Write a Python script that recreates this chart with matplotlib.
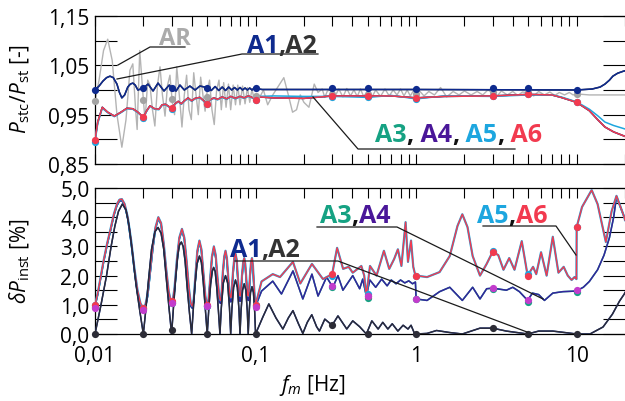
import matplotlib
matplotlib.use('Agg')
import matplotlib.pyplot as plt
from matplotlib import transforms
from matplotlib.lines import Line2D
from matplotlib.ticker import LogLocator, NullFormatter

plt.rcParams['font.family'] = ['Open Sans', 'DejaVu Sans']
plt.rcParams['mathtext.fontset'] = 'custom'
plt.rcParams['mathtext.rm'] = 'Open Sans'
plt.rcParams['mathtext.it'] = 'Open Sans:italic'
plt.rcParams['mathtext.bf'] = 'Open Sans:bold'

# ---------------- data ----------------
x_ticks = [0.01, 0.1, 1, 10]
x_ticklabels = ['0,01', '0,1', '1', '10']
top_yticks = [0.85, 0.90, 0.95, 1.00, 1.05, 1.10, 1.15]
top_yticklabels = ['0,85', '', '0,95', '', '1,05', '', '1,15']
bot_yticks = [0, 0.5, 1, 1.5, 2, 2.5, 3, 3.5, 4, 4.5, 5]
bot_yticklabels = ['0,0', '', '1,0', '', '2,0', '', '3,0', '', '4,0', '', '5,0']

# marker frequencies
m_f = [0.01, 0.02, 0.03, 0.05, 0.1, 0.3, 0.5, 1, 3, 5, 10]

# --- top panel: Pstc/Pst ---
t_ar_f = [
    0.0100, 0.0106, 0.0113, 0.0120, 0.0128, 0.0137, 0.0147, 0.0156, 0.0165, 0.0172,
    0.0179, 0.0183, 0.0190, 0.0198, 0.0205, 0.0213, 0.0220, 0.0228, 0.0236, 0.0245,
    0.0254, 0.0263, 0.0273, 0.0283, 0.0293, 0.0303, 0.0313, 0.0323, 0.0335, 0.0348,
    0.0360, 0.0372, 0.0385, 0.0398, 0.0412, 0.0426, 0.0440, 0.0455, 0.0470, 0.0485,
    0.0500, 0.0517, 0.0535, 0.0553, 0.0572, 0.0592, 0.0612, 0.0633, 0.0655, 0.0678,
    0.0700, 0.0725, 0.0750, 0.0775, 0.0800, 0.0830, 0.0860, 0.0890, 0.0920, 0.0950,
    0.0980, 0.1000, 0.1060, 0.1120, 0.1190, 0.1280, 0.1400, 0.1500, 0.1600, 0.1700,
    0.1800, 0.1900, 0.2000, 0.2150, 0.2320, 0.2450, 0.2600, 0.2700, 0.2800, 0.2900,
    0.3100, 0.3300, 0.3500, 0.3700, 0.3900, 0.4100, 0.4300, 0.4500, 0.4700, 0.5000,
    0.5300, 0.5600, 0.6000, 0.6400, 0.6800, 0.7200, 0.7600, 0.8000, 0.8400, 0.8800,
    0.9200, 0.9600, 1.0000, 1.0500, 1.1200, 1.2000, 1.3000, 1.4200, 1.5500, 1.7000,
    1.8500, 2.0000, 2.2000, 2.4000, 2.6000, 2.8000, 3.0000, 3.2000, 3.4000, 3.7000,
    4.0000, 4.3000, 4.6000, 5.0000, 5.4000, 5.8000, 6.3000, 6.8000, 7.3000, 7.8000,
    8.4000, 9.0000, 9.5000, 10.000, 12.000, 15.000, 20.000]
t_ar = [
    0.978, 1.020, 1.080, 1.103, 1.060, 0.950, 0.884, 0.940, 1.040, 1.053,
    0.960, 0.920, 1.080, 1.000, 0.937, 1.020, 1.010, 0.960, 0.927, 1.010,
    1.047, 0.990, 0.947, 1.010, 1.030, 0.975, 0.950, 1.047, 0.990, 0.925,
    0.990, 1.030, 0.960, 0.940, 1.035, 0.990, 0.950, 1.026, 0.990, 0.957,
    1.000, 1.020, 0.960, 0.930, 1.000, 1.020, 0.960, 1.015, 0.965, 1.012,
    0.960, 1.010, 0.970, 1.010, 0.970, 1.008, 0.972, 1.005, 0.975, 1.002,
    0.980, 0.988, 0.985, 1.000, 0.970, 0.990, 1.010, 1.025, 0.990, 0.955,
    0.960, 0.990, 0.975, 0.965, 1.012, 0.995, 1.002, 0.985, 0.998, 1.000,
    0.985, 1.002, 0.986, 1.003, 0.988, 1.000, 0.987, 1.002, 0.988, 0.995,
    0.985, 1.000, 0.987, 1.002, 0.988, 1.000, 0.990, 1.002, 0.988, 1.000,
    0.988, 0.998, 0.992, 0.998, 0.988, 0.997, 0.990, 1.005, 0.986, 0.997,
    0.990, 0.998, 0.990, 0.997, 0.990, 1.000, 0.994, 0.988, 0.998, 0.990,
    0.997, 0.989, 0.996, 0.994, 0.988, 0.997, 0.990, 0.996, 0.989, 0.995,
    0.990, 0.995, 0.990, 0.992, 0.990, 0.990, 0.990]

t_a12_f = [
    0.0100, 0.0106, 0.0112, 0.0118, 0.0124, 0.0130, 0.0137, 0.0142, 0.0147, 0.0153,
    0.0160, 0.0166, 0.0172, 0.0178, 0.0185, 0.0200, 0.0214,
    0.0230, 0.0247, 0.0269, 0.0290, 0.0300, 0.0320, 0.0338, 0.0360, 0.0390, 0.0420,
    0.0450, 0.0500, 0.0530, 0.0560, 0.0590, 0.0620, 0.0650, 0.0680, 0.0710, 0.0740,
    0.0770, 0.0800, 0.0830, 0.0860, 0.0890, 0.0920, 0.0950, 0.0980, 0.1000, 0.1100,
    1.0, 10.0, 12.5, 14.0, 15.0, 16.0, 16.8, 18.0, 19.5, 20.0]
t_a1 = [
    1.000, 1.008, 1.018, 1.025, 1.028, 1.025, 1.012, 0.995, 0.984, 0.990,
    1.006, 1.012, 1.014, 1.010, 1.000, 1.004, 1.012,
    0.998, 1.014, 0.998, 1.010, 1.004, 0.998, 1.010, 1.000, 1.008, 1.000,
    1.008, 1.005, 0.999, 1.007, 0.999, 1.006, 0.999, 1.006, 1.000, 1.005,
    1.000, 1.005, 1.000, 1.004, 1.000, 1.004, 1.000, 1.004, 1.003, 1.001,
    1.001, 1.000, 1.002, 1.006, 1.012, 1.020, 1.028, 1.034, 1.038, 1.039]
t_a2 = t_a1

t_a36_f = [
    0.0100, 0.0104, 0.0111, 0.0120, 0.0132, 0.0145, 0.0158, 0.0172, 0.0185, 0.0200,
    0.0210, 0.0220, 0.0235, 0.0250, 0.0262, 0.0275, 0.0290, 0.0300, 0.0315, 0.0330,
    0.0345, 0.0360, 0.0380, 0.0400, 0.0420, 0.0450, 0.0480, 0.0500, 0.0520, 0.0550,
    0.0580, 0.0620, 0.0660, 0.0700, 0.0750, 0.0800, 0.0850, 0.0900, 0.0950, 0.1000,
    0.1050, 0.1300, 0.2000, 0.3000, 0.4000, 0.5000, 0.7000, 1.0000, 1.5000, 3.0000,
    5.0000, 7.0000, 8.0000, 10.000, 12.000, 13.500, 15.000, 17.000, 20.000]
t_a6 = [
    0.899, 0.935, 0.965, 0.955, 0.947, 0.955, 0.963, 0.962, 0.955, 0.945,
    0.958, 0.968, 0.962, 0.961, 0.970, 0.971, 0.966, 0.963, 0.972, 0.977,
    0.972, 0.978, 0.984, 0.978, 0.983, 0.985, 0.977, 0.972, 0.980, 0.984,
    0.981, 0.986, 0.982, 0.987, 0.983, 0.987, 0.984, 0.988, 0.985, 0.981,
    0.986, 0.984, 0.983, 0.988, 0.988, 0.988, 0.988, 0.984, 0.987, 0.988,
    0.991, 0.990, 0.985, 0.975, 0.958, 0.940, 0.925, 0.915, 0.906]
t_a5 = [
    0.894, 0.932, 0.963, 0.954, 0.946, 0.954, 0.962, 0.961, 0.954, 0.944,
    0.957, 0.967, 0.961, 0.960, 0.969, 0.970, 0.965, 0.962, 0.971, 0.976,
    0.971, 0.977, 0.983, 0.977, 0.982, 0.984, 0.976, 0.971, 0.979, 0.983,
    0.980, 0.985, 0.981, 0.986, 0.982, 0.986, 0.983, 0.987, 0.984, 0.980,
    0.987, 0.988, 0.987, 0.987, 0.986, 0.985, 0.989, 0.982, 0.988, 0.987,
    0.990, 0.990, 0.986, 0.976, 0.961, 0.948, 0.935, 0.928, 0.921]
t_a34 = t_a6

t_m_a1 = [1.000, 1.004, 1.005, 1.005, 1.004, 1.004, 1.004, 1.002, 1.004, 1.004, 1.000]
t_m_ar = [0.978, 0.979, 0.982, 0.985, 0.988, 0.992, 0.992, 0.992, 0.996, 0.996, 0.992]
t_m_a6 = [0.899, 0.945, 0.963, 0.972, 0.980, 0.988, 0.988, 0.984, 0.988, 0.992, 0.975]
t_m_a5 = [0.894, 0.944, 0.962, 0.971, 0.979, 0.986, 0.985, 0.982, 0.987, 0.991, 0.976]

# --- bottom panel: dPinst ---
b_a12_f = [
    0.0100, 0.0109, 0.0118, 0.0126, 0.0133, 0.0140, 0.0148, 0.0156, 0.0163, 0.0171,
    0.0180, 0.0190, 0.0200,
    0.0207, 0.0215, 0.0225, 0.0236, 0.0247, 0.0258, 0.0268, 0.0278, 0.0289, 0.0300,
    0.0308, 0.0318, 0.0328, 0.0336, 0.0345, 0.0354, 0.0364, 0.0375, 0.0388, 0.0400,
    0.0410, 0.0420, 0.0432, 0.0447, 0.0460, 0.0472, 0.0486, 0.0500,
    0.0512, 0.0525, 0.0538, 0.0548, 0.0560, 0.0573, 0.0587, 0.0600,
    0.0612, 0.0630, 0.0650, 0.0670, 0.0688, 0.0700,
    0.0712, 0.0730, 0.0750, 0.0770, 0.0788, 0.0800,
    0.0812, 0.0830, 0.0850, 0.0870, 0.0888, 0.0900,
    0.0912, 0.0930, 0.0950, 0.0970, 0.0988, 0.1000,
    0.111, 0.121, 0.134, 0.148, 0.160, 0.171, 0.185, 0.197, 0.210, 0.224,
    0.240, 0.250, 0.270, 0.300, 0.326, 0.370, 0.403, 0.445, 0.490, 0.530,
    0.580, 0.620, 0.667, 0.710, 0.770, 0.830, 0.890, 0.930, 0.980, 1.000,
    1.170, 1.340, 1.620, 1.940, 2.500, 3.000, 3.650, 4.950, 5.800, 7.100,
    10.00, 12.10, 14.60, 16.70, 18.50, 19.80, 20.00]
b_a12 = [
    0.00, 1.00, 2.00, 3.00, 3.70, 4.20, 4.45, 4.25, 3.70, 2.80,
    1.70, 0.80, 0.00,
    0.80, 1.80, 2.90, 3.50, 3.65, 3.45, 2.90, 1.90, 0.90, 0.00,
    0.90, 1.90, 2.70, 3.05, 3.15, 3.00, 2.50, 1.60, 0.70, 0.00,
    0.90, 1.70, 2.40, 2.67, 2.45, 1.80, 0.90, 0.00,
    0.90, 1.70, 2.15, 2.28, 2.15, 1.60, 0.80, 0.00,
    0.90, 1.75, 2.00, 1.75, 0.90, 0.00,
    0.85, 1.60, 1.85, 1.60, 0.85, 0.00,
    0.80, 1.50, 1.72, 1.50, 0.80, 0.00,
    0.75, 1.42, 1.62, 1.42, 0.75, 0.00,
    0.58, 1.03, 0.55, 0.17, 0.55, 0.80, 0.35, 0.02, 0.40, 0.66,
    0.25, 0.10, 0.51, 0.30, 0.62, 0.17, 0.45, 0.25, 0.00, 0.45,
    0.17, 0.40, 0.17, 0.35, 0.10, 0.30, 0.17, 0.30, 0.00, 0.00,
    0.02, 0.12, 0.05, 0.00, 0.20, 0.20, 0.10, 0.00, 0.10, 0.10,
    0.00, 0.00, 0.24, 0.68, 1.13, 1.37, 1.42]

b_lo_f = [
    0.0100, 0.0104, 0.0108, 0.0113, 0.0119, 0.0125, 0.0131, 0.0137, 0.0142, 0.0147,
    0.0153, 0.0160, 0.0168, 0.0176, 0.0184, 0.0192, 0.0199, 0.0206,
    0.0213, 0.0221, 0.0229, 0.0238, 0.0248, 0.0258, 0.0268, 0.0278, 0.0288, 0.0297, 0.0305,
    0.0313, 0.0323, 0.0335, 0.0348, 0.0360, 0.0372, 0.0384, 0.0395, 0.0404, 0.0412,
    0.0422, 0.0434, 0.0447, 0.0460, 0.0473, 0.0487, 0.0498, 0.0508,
    0.0520, 0.0535, 0.0550, 0.0565, 0.0580, 0.0595, 0.0605, 0.0613,
    0.0625, 0.0638, 0.0650, 0.0663, 0.0677, 0.0692, 0.0702, 0.0710,
    0.0723, 0.0737, 0.0750, 0.0763, 0.0777, 0.0792, 0.0802, 0.0810,
    0.0823, 0.0837, 0.0850, 0.0863, 0.0877, 0.0892, 0.0902, 0.0910,
    0.0923, 0.0937, 0.0950, 0.0963, 0.0977, 0.0990, 0.1000]
b_a6_lo = [
    1.00, 1.40, 1.90, 2.50, 3.10, 3.60, 4.10, 4.45, 4.60, 4.62,
    4.45, 4.00, 3.20, 2.25, 1.50, 1.05, 0.90, 1.00,
    1.40, 2.20, 3.00, 3.65, 4.00, 3.80, 3.10, 2.20, 1.45, 1.12, 1.15,
    1.60, 2.50, 3.30, 3.60, 3.30, 2.50, 1.60, 1.05, 0.95, 1.20,
    2.00, 2.85, 3.20, 2.90, 2.10, 1.30, 1.00, 1.10,
    1.80, 2.65, 3.00, 2.70, 1.90, 1.25, 1.15, 1.35,
    2.10, 2.65, 2.85, 2.60, 1.90, 1.30, 1.25, 1.45,
    2.10, 2.60, 2.75, 2.55, 1.90, 1.35, 1.30, 1.45,
    2.00, 2.45, 2.60, 2.40, 1.85, 1.35, 1.30, 1.45,
    2.00, 2.45, 2.60, 2.35, 1.70, 1.20, 1.00]
b_a34_lo = [
    0.95, 1.35, 1.85, 2.45, 3.05, 3.55, 4.05, 4.40, 4.55, 4.57,
    4.40, 3.95, 3.10, 2.15, 1.40, 0.95, 0.82, 0.90,
    1.30, 2.10, 2.90, 3.60, 3.95, 3.75, 3.00, 2.10, 1.30, 1.02, 1.05,
    1.50, 2.40, 3.25, 3.55, 3.25, 2.40, 1.50, 0.95, 0.88, 1.10,
    1.90, 2.80, 3.15, 2.85, 2.00, 1.15, 0.95, 1.00,
    1.70, 2.60, 2.95, 2.60, 1.80, 1.10, 1.05, 1.25,
    2.00, 2.60, 2.80, 2.50, 1.80, 1.15, 1.10, 1.30,
    2.00, 2.55, 2.70, 2.45, 1.80, 1.15, 1.12, 1.30,
    1.90, 2.40, 2.55, 2.30, 1.75, 1.20, 1.15, 1.30,
    1.90, 2.40, 2.55, 2.25, 1.60, 1.05, 0.95]

b_a56_hi_f = [
    0.109, 0.128, 0.142, 0.171, 0.190, 0.2245, 0.263, 0.300, 0.322, 0.351,
    0.380, 0.403, 0.456, 0.475, 0.490, 0.516, 0.567, 0.630, 0.680, 0.730,
    0.770, 0.810, 0.860, 0.890, 0.930, 0.960, 0.990, 1.000, 1.170, 1.400,
    1.620, 1.810, 1.940, 2.090, 2.250, 2.500, 2.750, 3.000, 3.250, 3.500,
    3.800, 4.100, 4.550, 4.950, 5.350, 5.600, 6.000, 6.500, 7.100, 7.700,
    8.300, 8.800, 9.300, 9.700, 9.970, 10.00, 10.80, 12.40, 13.50, 15.20,
    16.50, 17.70, 19.80, 20.00]
b_a6_hi = [
    1.80, 2.05, 1.95, 2.47, 1.73, 2.40, 1.88, 2.05, 2.95, 2.23,
    2.30, 2.10, 2.33, 2.00, 1.30, 2.33, 2.00, 2.85, 2.23, 2.57,
    2.90, 2.33, 3.83, 2.47, 3.20, 2.30, 2.00, 2.00, 1.95, 2.12,
    2.67, 3.70, 4.10, 3.66, 2.67, 2.00, 2.40, 2.82, 2.70, 2.20,
    2.60, 2.20, 3.18, 2.00, 2.30, 2.05, 2.80, 2.00, 3.33, 2.10,
    2.30, 2.00, 1.85, 1.95, 1.88, 3.66, 4.35, 4.93, 4.45, 3.15,
    4.20, 4.73, 4.00, 3.90]

b_a34_hi_f = [
    0.109, 0.128, 0.145, 0.171, 0.197, 0.2245, 0.245, 0.277, 0.303, 0.326,
    0.350, 0.403, 0.445, 0.465, 0.490, 0.515, 0.560, 0.610, 0.660, 0.700,
    0.750, 0.800, 0.850, 0.900, 0.950, 0.990, 1.000, 1.170, 1.400, 1.620,
    1.940, 2.250, 2.500, 2.750, 3.000, 3.650, 4.000, 4.400, 4.950, 5.300,
    5.800, 6.300, 7.100, 8.200, 9.900, 11.00, 12.00, 13.50, 14.80, 16.00,
    17.00, 17.70, 19.80]
b_a34_hi = [
    1.47, 1.81, 1.37, 2.16, 1.20, 2.05, 1.30, 1.95, 1.60, 2.00,
    1.50, 2.00, 1.55, 1.88, 1.30, 1.85, 1.60, 1.88, 1.65, 1.85,
    1.72, 1.85, 1.75, 1.82, 1.72, 1.78, 1.20, 1.15, 1.45, 1.60,
    1.15, 1.60, 1.20, 1.55, 1.57, 1.50, 1.60, 1.45, 1.15, 1.40,
    1.35, 1.15, 1.40, 1.45, 1.47, 1.60, 1.80, 2.20, 2.70, 3.30,
    4.00, 4.70, 4.00]

b_m_a12 = [0.0, 0.0, 0.14, 0.0, 0.0, 0.30, 0.0, 0.0, 0.20, 0.0, 0.0]
b_m_a6 = [1.00, 0.90, 1.13, 1.00, 1.00, 2.05, 1.30, 2.00, 2.82, 2.00, 3.66]
b_m_a5 = [0.99, 0.88, 1.10, 0.97, 0.98, 2.00, 1.37, 1.97, 2.85, 2.05, 3.66]
b_m_a4 = [0.89, 0.82, 1.06, 0.96, 0.92, 1.64, 1.30, 1.20, 1.57, 1.17, 1.50]
b_m_a3 = [0.93, 0.85, 1.05, 0.95, 0.95, 1.60, 1.25, 1.20, 1.53, 1.10, 1.43]

# ---------------- style ----------------
C_AR = '#b4b4b4'
C_A1 = '#0e2a8e'
C_A2 = '#2c2c36'
C_A3 = '#16a283'
C_A4L = '#33259c'
C_A4 = '#4a1799'
C_A5 = '#1da6df'
C_A6 = '#f23a4f'
C_MAG = '#c23ccc'

W, H = 625, 402
fig = plt.figure(figsize=(W / 100, H / 100), dpi=100)


def box(l, t, r, b):
    return [l / W, 1 - b / H, (r - l) / W, (b - t) / H]


ax1 = fig.add_axes(box(95, 17, 625, 165))
ax2 = fig.add_axes(box(95, 189, 625, 335))

for ax in (ax1, ax2):
    ax.set_xscale('log')
    ax.set_xlim(0.01, 20)
    ax.set_xticks(x_ticks, x_ticklabels)
    ax.xaxis.set_minor_locator(LogLocator(base=10, subs=range(2, 10), numticks=20))
    ax.xaxis.set_minor_formatter(NullFormatter())
    ax.tick_params(axis='x', which='both', direction='in', length=7, width=0.8,
                   top=True, labelsize=15)
    ax.tick_params(axis='y', which='major', direction='in', length=16, width=0.8,
                   left=True, right=True, labelsize=15, pad=4)
    ax.tick_params(axis='y', which='minor', left=False, right=False)
    ax.spines['right'].set_visible(False)
    for s in ('top', 'bottom', 'left'):
        ax.spines[s].set_linewidth(0.9)

ax1.tick_params(axis='x', which='both', bottom=True, labelbottom=False)
ax2.tick_params(axis='x', which='both', bottom=False, labelbottom=True, pad=8)

ax1.set_ylim(0.85, 1.15)
ax1.set_yticks(top_yticks, top_yticklabels)
ax2.set_ylim(0, 5)
ax2.set_yticks(bot_yticks, bot_yticklabels)

LW = 1.1
# top panel lines
ax1.plot(t_ar_f, t_ar, color=C_AR, lw=1.0, zorder=2)
ax1.plot(t_a36_f, t_a34, color=C_A3, lw=LW, zorder=3)
ax1.plot(t_a36_f, t_a34, color=C_A4L, lw=LW, zorder=3)
ax1.plot(t_a36_f, t_a5, color=C_A5, lw=LW, zorder=4)
ax1.plot(t_a36_f, t_a6, color=C_A6, lw=LW, zorder=5)
ax1.plot(t_a12_f, t_a2, color=C_A2, lw=LW, zorder=5)
ax1.plot(t_a12_f, t_a1, color=C_A1, lw=LW, zorder=6)
# top markers
mk = dict(ls='none', marker='o', ms=5.2, mew=0, clip_on=False)
ax1.plot(m_f, t_m_ar, color='#a3a3a3', zorder=7, **mk)
ax1.plot(m_f, t_m_a5, color=C_A5, zorder=7, **mk)
ax1.plot(m_f, t_m_a6, color=C_A6, zorder=8, **mk)
ax1.plot(m_f, t_m_a1, color=C_A1, zorder=8, **mk)

# bottom panel lines
b_a56_f = b_lo_f + b_a56_hi_f
b_a6 = b_a6_lo + b_a6_hi
b_a5 = b_a6
b_a34_f = b_lo_f + b_a34_hi_f
b_a34 = b_a34_lo + b_a34_hi
ax2.plot(b_a34_f, b_a34, color=C_A3, lw=LW, zorder=2)
ax2.plot(b_a34_f, b_a34, color=C_A4L, lw=LW, zorder=3)
ax2.plot(b_a56_f, b_a5, color=C_A5, lw=1.6, zorder=4)
ax2.plot(b_a56_f, b_a6, color=C_A6, lw=1.0, zorder=5)
ax2.plot(b_a12_f, b_a12, color=C_A1, lw=LW, zorder=5)
ax2.plot(b_a12_f, b_a12, color=C_A2, lw=1.0, zorder=6)
# bottom markers
ax2.plot(m_f, b_m_a3, color=C_A3, zorder=7, **mk)
ax2.plot(m_f, b_m_a5, color=C_A5, zorder=7, **mk)
ax2.plot(m_f, b_m_a6, color=C_A6, zorder=8, **mk)
ax2.plot(m_f, b_m_a4, color=C_MAG, zorder=8, **mk)
ax2.plot(m_f, b_m_a12, color=C_A2, zorder=8, **mk)

# axis labels
fig.text(20 / W, 1 - 89 / H, r'$P_{\mathrm{stc}}/P_{\mathrm{st}}$ [-]', rotation=90,
         ha='center', va='center', fontsize=15)
fig.text(20 / W, 1 - 261 / H, r'$\delta P_{\mathrm{inst}}$ [%]', rotation=90,
         ha='center', va='center', fontsize=15)
fig.text(312 / W, 1 - 386 / H, r'$f_m$ [Hz]', ha='center', va='center', fontsize=15)

# annotations
renderer = fig.canvas.get_renderer()


def rainbow(px, py, parts, size=18):
    tr = fig.transFigure
    for s, c in parts:
        t = fig.text(px / W, 1 - py / H, s, color=c, fontsize=size, fontweight='bold',
                     transform=tr, ha='left', va='baseline', zorder=10)
        w = t.get_window_extent(renderer=renderer).width
        tr = transforms.offset_copy(t.get_transform(), x=w, units='dots')


def leader(pts, color='#1a1a1a'):
    fig.add_artist(Line2D([p[0] / W for p in pts], [1 - p[1] / H for p in pts],
                          color=color, lw=0.9, zorder=9))


rainbow(159, 45, [('AR', '#ababab')], size=17)
leader([(185, 48), (150, 48), (118, 66)])
rainbow(247, 53, [('A1', C_A1), (',A2', '#333333')])
leader([(318, 55), (242, 55), (117, 80)])
rainbow(375, 142, [('A3', C_A3), (',', '#111111'), (' A4', C_A4), (',', '#111111'),
                   (' A5', C_A5), (',', '#111111'), (' A6', C_A6)])
leader([(515, 150), (358, 150), (313, 98)])

rainbow(230, 257, [('A1', C_A1), (',A2', '#333333')])
leader([(235, 262), (338, 262), (527, 333)])
rainbow(320, 223, [('A3', C_A3), (',', '#111111'), ('A4', C_A4)])
leader([(317, 228), (397, 228), (543, 300)])
rainbow(477, 223, [('A5', C_A5), (',', '#111111'), ('A6', C_A6)])
leader([(483, 227), (556, 227), (576, 256)])

fig.savefig('out.png', dpi=100)
